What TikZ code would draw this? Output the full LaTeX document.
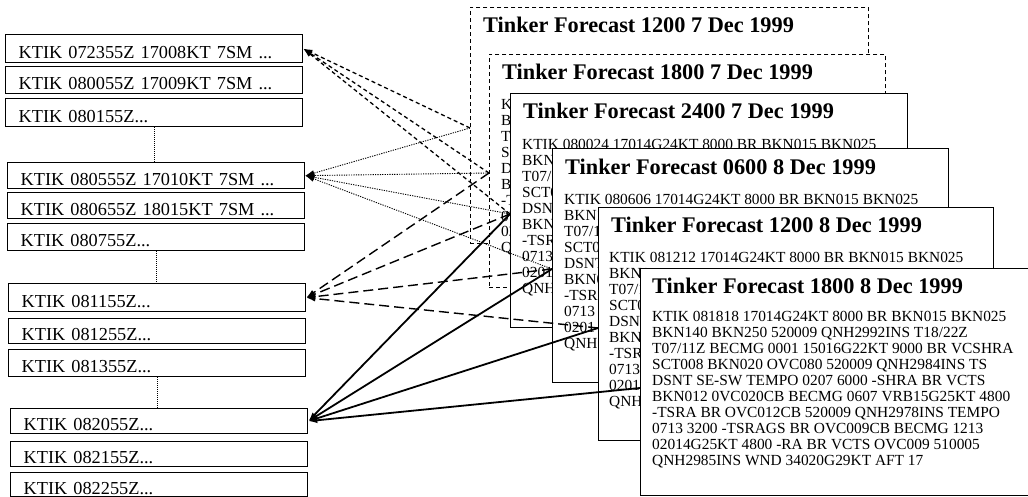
\documentclass[tikz,border=0pt]{standalone}
\usepackage{fontspec}
\setmainfont{Liberation Serif}
\usetikzlibrary{arrows.meta}
\newcommand\titlefnt{\fontsize{22.3}{24}\selectfont\bfseries}
\newcommand\bodyfnt{\fontsize{15.4}{15.9}\selectfont}
\newcommand\obsfnt{\fontsize{18.3}{20}\selectfont}
\begin{document}
\begin{tikzpicture}[x=1pt,y=-1pt,
  obs/.style={draw, line width=1.3pt, anchor=north west, inner xsep=13pt, inner ysep=0pt,
    minimum width=297pt, text width=271pt, align=left, text height=19pt, text depth=0pt, font=\obsfnt},
  card/.style={draw, fill=white, anchor=north west, inner sep=0pt, line width=1.4pt},
  dcard/.style={card, line width=0.9pt, dash pattern=on 4pt off 3pt},
  ttl/.style={anchor=base west, inner sep=0pt, font=\titlefnt},
  body/.style={anchor=north west, inner sep=0pt, align=left, font=\bodyfnt},
  vlink/.style={line width=0.7pt, dash pattern=on 1pt off 1pt},
  tip/.style={-{Latex[length=9pt,width=6pt]}},
  linkA/.style={tip, line width=1.3pt, dash pattern=on 4pt off 3pt},
  linkB/.style={tip, line width=0.9pt, dash pattern=on 1.2pt off 1.2pt},
  linkC/.style={tip, line width=1.4pt, dash pattern=on 10pt off 5pt},
  linkD/.style={tip, line width=1.8pt}]
\useasboundingbox (0,0) rectangle (1028,497);
\clip (0,0) rectangle (1028,497);
% forecast cards (each partly hidden by the next one)
\node[dcard, minimum width=398pt, minimum height=236pt] (c1) at (470,7) {};
\node[ttl] (c1t) at (483,33) {Tinker Forecast 1200 7 Dec 1999};
\node[dcard, minimum width=396pt, minimum height=233pt] (c2) at (489,54) {};
\node[ttl] (c2t) at (502,80) {Tinker Forecast 1800 7 Dec 1999};
\node[body] (c2b) at (501,99.5) {KT\\BK\\T0\\SC\\DS\\BK\\-T\\07\\02\\QN};
\node[card, minimum width=397pt, minimum height=234pt] (c3) at (510,93) {};
\node[ttl] (c3t) at (523,119) {Tinker Forecast 2400 7 Dec 1999};
\node[body] (c3b) at (522,139.5) {KTIK 080024 17014G24KT 8000 BR BKN015 BKN025\\
BKN1\\T07/1\\SCT0\\DSNT\\BKN0\\-TSR\\0713\\0201\\QNH2};
\node[card, minimum width=396pt, minimum height=234pt] (c4) at (552,148) {};
\node[ttl] (c4t) at (565,175) {Tinker Forecast 0600 8 Dec 1999};
\node[body] (c4b) at (564,194.5) {KTIK 080606 17014G24KT 8000 BR BKN015 BKN025\\
BKN1\\T07/1\\SCT0\\DSNT\\BKN0\\-TSR\\0713\\0201\\QNH2};
\node[card, minimum width=395pt, minimum height=233pt] (c5) at (598,207) {};
\node[ttl] (c5t) at (611,233) {Tinker Forecast 1200 8 Dec 1999};
\node[body] (c5b) at (609,252.5) {KTIK 081212 17014G24KT 8000 BR BKN015 BKN025\\
BKN1\\T07/1\\SCT0\\DSNT\\BKN0\\-TSR\\0713\\0201\\QNH2};
\node[card, minimum width=400pt, minimum height=227pt] (c6) at (640,268) {};
\node[ttl] (c6t) at (652,293) {Tinker Forecast 1800 8 Dec 1999};
\node[body] (c6b) at (652,311.5) {KTIK 081818 17014G24KT 8000 BR BKN015 BKN025\\
BKN140 BKN250 520009 QNH2992INS T18/22Z\\
T07/11Z BECMG 0001 15016G22KT 9000 BR VCSHRA\\
SCT008 BKN020 OVC080 520009 QNH2984INS TS\\
DSNT SE-SW TEMPO 0207 6000 -SHRA BR VCTS\\
BKN012 0VC020CB BECMG 0607 VRB15G25KT 4800\\
-TSRA BR OVC012CB 520009 QNH2978INS TEMPO\\
0713 3200 -TSRAGS BR OVC009CB BECMG 1213\\
02014G25KT 4800 -RA BR VCTS OVC009 510005\\
QNH2985INS WND 34020G29KT AFT 17};
% observation boxes
\node[obs, minimum height=28pt] (o1) at (5,34) {KTIK 072355Z 17008KT 7SM ...};
\node[obs, minimum height=27pt] (o2) at (5,66) {KTIK 080055Z 17009KT 7SM ...};
\node[obs, minimum height=28pt] (o3) at (5,98) {KTIK 080155Z...};
\node[obs, minimum height=26pt] (o4) at (7,162) {KTIK 080555Z 17010KT 7SM ...};
\node[obs, minimum height=26pt] (o5) at (7,192) {KTIK 080655Z 18015KT 7SM ...};
\node[obs, minimum height=27pt] (o6) at (7,223) {KTIK 080755Z...};
\node[obs, minimum height=28pt] (o7) at (8,283) {KTIK 081155Z...};
\node[obs, minimum height=25pt] (o8) at (8,318) {KTIK 081255Z...};
\node[obs, minimum height=27pt] (o9) at (8,349) {KTIK 081355Z...};
\node[obs, minimum height=25pt] (o10) at (10,408) {KTIK 082055Z...};
\node[obs, minimum height=25pt] (o11) at (10,441) {KTIK 082155Z...};
\node[obs, minimum height=24pt] (o12) at (10,472) {KTIK 082255Z...};
\draw[vlink] (o3.south) -- (o3.south |- o4.north);
\draw[vlink] (o6.south) -- (o6.south |- o7.north);
\draw[vlink] (o9.south) -- (o9.south |- o10.north);
% target points on the left edges of the cards
\coordinate (t1) at (470,128);
\coordinate (t2) at (489,173);
\coordinate (t3) at (510,214);
\coordinate (t4) at (552,269);
\coordinate (t5) at (598,328);
\coordinate (t6) at (640,388);
% connectors
\foreach \t in {t1,t2,t3} \draw[linkA] (\t) -- (o1.east);
\foreach \t in {t1,t2,t3,t4} \draw[linkB] (\t) -- (o4.east);
\foreach \t in {t2,t3,t4,t5} \draw[linkC] (\t) -- (o7.east);
\foreach \t in {t3,t4,t5,t6} \draw[linkD] (\t) -- (o10.east);
\end{tikzpicture}
\end{document}
